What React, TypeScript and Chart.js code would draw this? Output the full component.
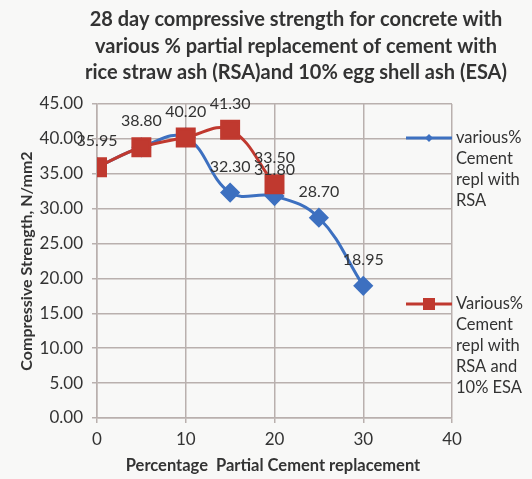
import React, { useEffect, useRef } from "react";
import { Chart, registerables } from "chart.js";

Chart.register(...registerables);

const titleLines = [
  "28 day compressive strength for concrete with",
  "various % partial replacement of cement with",
  "rice straw ash (RSA)and 10% egg shell ash (ESA)",
];
const xAxisTitle = "Percentage  Partial Cement replacement";
const yAxisTitle = "Compressive Strength, N/mm2";

const rsaX = [0, 5, 10, 15, 20, 25, 30];
const rsaY = [35.95, 38.8, 40.2, 32.3, 31.8, 28.7, 18.95];
const esaX = [0, 5, 10, 15, 20];
const esaY = [35.95, 38.8, 40.2, 41.3, 33.5];

const rsaLegend = ["various%", "Cement", "repl with", "RSA"];
const esaLegend = ["Various%", "Cement", "repl with", "RSA and", "10% ESA"];

const BLUE = "#3d70c0";
const RED = "#c0392f";
const FONT = "Lato, 'Open Sans', sans-serif";

export default function App() {
  const ref = useRef<HTMLCanvasElement>(null);
  useEffect(() => {
    const canvas = ref.current!;
    const decor = {
      id: "decor",
      beforeDraw(chart: any) {
        const c = chart.ctx;
        c.save();
        c.fillStyle = "#f8f8f7";
        c.fillRect(0, 0, chart.width, chart.height);
        c.restore();
      },
      afterDatasetsDraw(chart: any) {
        const c = chart.ctx;
        c.save();
        c.font = `16px ${FONT}`;
        c.fillStyle = "#333";
        c.textAlign = "center";
        c.textBaseline = "middle";
        const drawn = new Set<string>();
        for (const di of [0, 1]) {
          const meta = chart.getDatasetMeta(di);
          const ds = chart.data.datasets[di];
          meta.data.forEach((pt: any, i: number) => {
            const v = ds.data[i].y as number;
            const key = `${Math.round(pt.x)}_${v}`;
            if (drawn.has(key)) return;
            drawn.add(key);
            c.fillText(v.toFixed(2), pt.x, pt.y - 26);
          });
        }
        c.restore();
      },
      afterDraw(chart: any) {
        const c = chart.ctx;
        c.save();
        c.fillStyle = "#333";
        c.font = `bold 20px ${FONT}`;
        c.textAlign = "center";
        c.textBaseline = "middle";
        titleLines.forEach((t, i) => c.fillText(t, 296, 20 + i * 26.5));
        c.font = `bold 16.5px ${FONT}`;
        c.fillText(xAxisTitle, 273, 466);
        c.save();
        c.translate(27, 261);
        c.rotate(-Math.PI / 2);
        c.font = `bold 16px ${FONT}`;
        c.fillText(yAxisTitle, 0, 0);
        c.restore();
        const drawLeg = (y0: number, color: string, lines: string[], marker: string) => {
          c.strokeStyle = color;
          c.lineWidth = 3;
          c.beginPath();
          c.moveTo(406, y0);
          c.lineTo(452, y0);
          c.stroke();
          c.fillStyle = color;
          if (marker === "diamond") {
            c.beginPath();
            c.moveTo(429, y0 - 4);
            c.lineTo(433, y0);
            c.lineTo(429, y0 + 4);
            c.lineTo(425, y0);
            c.closePath();
            c.fill();
          } else {
            c.fillRect(423, y0 - 6, 12, 12);
          }
          c.fillStyle = "#333";
          c.font = `16.5px ${FONT}`;
          c.textAlign = "left";
          lines.forEach((t, i) => c.fillText(t, 456, y0 + i * 21));
        };
        drawLeg(138, BLUE, rsaLegend, "diamond");
        drawLeg(304, RED, esaLegend, "square");
        c.restore();
      },
    };
    const chart = new Chart(canvas, {
      type: "scatter",
      data: {
        datasets: [
          {
            label: "various% Cement repl with RSA",
            data: rsaX.map((x, i) => ({ x, y: rsaY[i] })),
            showLine: true,
            borderColor: BLUE,
            backgroundColor: BLUE,
            borderWidth: 3,
            tension: 0.4,
            pointStyle: "rectRot",
            pointRadius: 8,
            order: 1,
          },
          {
            label: "Various% Cement repl with RSA and 10% ESA",
            data: esaX.map((x, i) => ({ x, y: esaY[i] })),
            showLine: true,
            borderColor: RED,
            backgroundColor: RED,
            borderWidth: 3,
            tension: 0.4,
            pointStyle: "rect",
            pointRadius: 12,
            order: 0,
          },
        ],
      },
      options: {
        animation: false,
        responsive: false,
        layout: { padding: { left: 0, top: 104, right: 80, bottom: 0 } },
        plugins: {
          legend: { display: false },
          tooltip: { enabled: false },
          title: { display: false },
        },
        scales: {
          x: {
            type: "linear",
            min: 0,
            max: 40,
            ticks: { stepSize: 10, color: "#333", font: { family: FONT, size: 17 }, padding: 6 },
            grid: { color: "#b9b0ae", lineWidth: 1.5, tickLength: 5 },
            border: { color: "#b9b0ae", width: 1.5 },
            afterFit: (s: any) => {
              s.height = 61;
            },
          },
          y: {
            min: 0,
            max: 45,
            ticks: {
              stepSize: 5,
              color: "#333",
              font: { family: FONT, size: 17 },
              padding: 9,
              callback: (v: any) => Number(v).toFixed(2),
            },
            grid: { color: "#b9b0ae", lineWidth: 1.5, tickLength: 5 },
            border: { color: "#b9b0ae", width: 1.5 },
            afterFit: (s: any) => {
              s.width = 97;
            },
          },
        },
      },
      plugins: [decor],
    } as any);
    return () => chart.destroy();
  }, []);
  return (
    <div style={{ position: "fixed", left: 0, top: 0, width: 532, height: 479 }}>
      <canvas ref={ref} width={532} height={479} style={{ width: 532, height: 479 }} />
    </div>
  );
}
